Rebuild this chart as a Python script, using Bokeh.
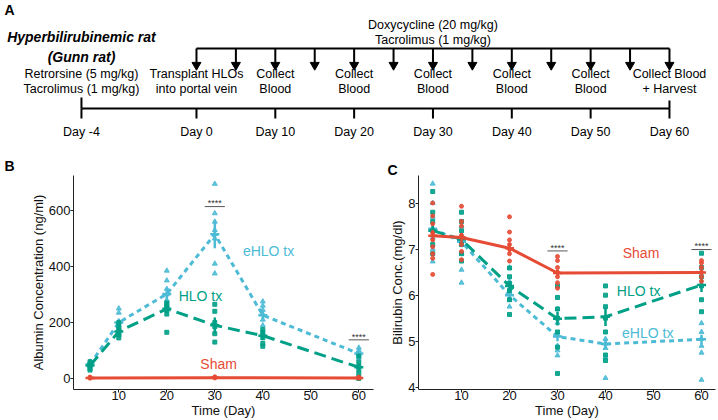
import math
from bokeh.plotting import figure
from bokeh.models import Range1d, FixedTicker, Title
from bokeh.layouts import column, row
from bokeh.core.properties import value
from bokeh.embed import file_html
from bokeh.resources import INLINE

FONT = "Liberation Sans"
RED = "#E64B35"
GREEN = "#00A087"
BLUE = "#4DBBD5"

# ---------------- Panel A data (schematic timeline) ----------------
timeline_days = [-4, 0, 10, 20, 30, 40, 50, 60]
timeline_labels = ["Day -4", "Day 0", "Day 10", "Day 20", "Day 30", "Day 40", "Day 50", "Day 60"]
dose_days = [0, 5, 10, 15, 20, 25, 30, 35, 40, 45, 50, 55, 60]
event_days = [0, 10, 20, 30, 40, 50, 60]
event_line1 = ["Transplant HLOs", "Collect", "Collect", "Collect", "Collect", "Collect", "Collect Blood"]
event_line2 = ["into portal vein", "Blood", "Blood", "Blood", "Blood", "Blood", "+ Harvest"]
model_lines = ["Hyperbilirubinemic rat", "(Gunn rat)"]
pre_lines = ["Retrorsine (5 mg/kg)", "Tacrolimus (1 mg/kg)"]
dose_lines = ["Doxycycline (20 mg/kg)", "Tacrolimus (1 mg/kg)"]

# ---------------- Panel B data (albumin, ng/ml) ----------------
b_xticks = [10, 20, 30, 40, 50, 60]
b_yticks = [0, 200, 400, 600]
b_sham_days = [4, 30, 60]
b_sham_mean = [2, 3, 2]
b_sham_sem = [1, 1, 1]
b_sham_pts = {4: [1, 3, 5], 30: [2, 4, 6], 60: [1, 3, 5]}
b_hlo_days = [4, 10, 20, 30, 40, 60]
b_hlo_mean = [46, 168, 249, 190, 153, 40]
b_hlo_sem = [8, 15, 18, 28, 14, 12]
b_hlo_pts = {4: [30, 38, 45, 52, 60], 10: [145, 155, 165, 175, 185, 200],
             20: [165, 230, 245, 255, 265, 270], 30: [265, 240, 200, 185, 160, 130],
             40: [175, 165, 155, 145, 125, 115], 60: [80, 60, 45, 30, 15, 0]}
b_ehlo_days = [4, 10, 20, 30, 40, 60]
b_ehlo_mean = [50, 200, 302, 515, 226, 89]
b_ehlo_sem = [7, 14, 20, 50, 14, 8]
b_ehlo_pts = {4: [35, 45, 55, 60], 10: [250, 235, 200, 190, 175, 160],
              20: [385, 350, 320, 300, 280, 260], 30: [695, 590, 560, 530, 515, 500, 410, 375],
              40: [275, 260, 245, 230, 210, 190], 60: [110, 100, 92, 85, 75]}

# ---------------- Panel C data (bilirubin, mg/dl) ----------------
c_xticks = [10, 20, 30, 40, 50, 60]
c_yticks = [4, 5, 6, 7, 8]
c_sham_days = [4, 10, 20, 30, 60]
c_sham_mean = [7.29, 7.25, 7.02, 6.48, 6.49]
c_sham_sem = [0.12, 0.10, 0.10, 0.07, 0.06]
c_sham_pts = {4: [8.0, 7.72, 7.55, 7.35, 7.2, 7.05, 6.9, 6.8, 6.45],
              10: [7.93, 7.6, 7.5, 7.3, 7.1, 6.95, 6.77],
              20: [7.7, 7.37, 7.2, 7.1, 7.0, 6.9, 6.74],
              30: [6.84, 6.75, 6.6, 6.5, 6.4, 6.27, 6.15],
              60: [6.75, 6.7, 6.6, 6.5, 6.4, 6.3]}
c_hlo_days = [4, 10, 20, 30, 40, 60]
c_hlo_mean = [7.40, 7.21, 6.20, 5.49, 5.53, 6.22]
c_hlo_sem = [0.12, 0.12, 0.10, 0.15, 0.20, 0.15]
c_hlo_pts = {4: [8.25, 7.8, 7.6, 7.4, 7.1, 6.9], 10: [7.8, 7.6, 7.4, 7.1, 6.9, 6.74],
             20: [6.59, 6.4, 6.25, 6.1, 5.9, 5.58], 30: [6.2, 5.95, 5.7, 5.5, 5.2, 4.87, 4.3],
             40: [6.2, 6.0, 5.75, 5.5, 5.2, 4.7, 4.58], 60: [6.91, 6.6, 6.4, 6.2, 5.9, 5.64]}
c_ehlo_days = [4, 10, 20, 30, 40, 60]
c_ehlo_mean = [7.44, 7.16, 6.00, 5.10, 4.94, 5.04]
c_ehlo_sem = [0.12, 0.12, 0.10, 0.10, 0.10, 0.10]
c_ehlo_pts = {4: [8.42, 8.0, 7.7, 7.45, 7.25, 7.0, 6.73], 10: [7.5, 7.3, 7.1, 6.9, 6.55, 6.27],
              20: [6.6, 6.3, 6.05, 5.9, 5.75], 30: [5.7, 5.4, 5.15, 4.9, 4.8, 4.69],
              40: [5.05, 4.95, 4.85, 4.65, 4.2], 60: [5.39, 5.2, 5.05, 4.9, 4.75, 4.16]}

# =================== Panel A ===================
BREAK_POS = -14.59  # Day -4 is drawn on a compressed (broken) scale


def tl_pos(d):
    return d if d >= 0 else BREAK_POS


pA = figure(width=718, height=150, x_range=Range1d(-24.86, 66.22), y_range=Range1d(150, 0),
            x_axis_type=None, y_axis_type=None, output_backend="svg", toolbar_location=None,
            min_border=0)
pA.outline_line_color = None
pA.background_fill_color = None

tpos = [tl_pos(d) for d in timeline_days]
n = len(tpos)
pA.segment(x0=[tpos[0]], y0=[108], x1=[tpos[-1]], y1=[108], line_width=2, color="black")
pA.segment(x0=tpos, y0=[108] * n, x1=tpos, y1=[118] * n, line_width=2, color="black")
pA.segment(x0=[tpos[0], tpos[-1]], y0=[97, 100], x1=[tpos[0], tpos[-1]], y1=[108, 108],
           line_width=2, color="black")
pA.text(x=tpos, y=[131] * n, text=timeline_labels, text_font=value(FONT), text_font_size="12.5px",
        text_align="center", text_baseline="middle", color="black")

m = len(dose_days)
pA.segment(x0=[dose_days[0]], y0=[48], x1=[dose_days[-1]], y1=[48], line_width=2, color="black")
pA.segment(x0=dose_days, y0=[48] * m, x1=dose_days, y1=[63] * m, line_width=2, color="black")
pA.scatter(x=dose_days, y=[64.5] * m, marker="inverted_triangle", size=9, color="black")
pA.text(x=[30, 30], y=[24, 39.5], text=dose_lines, text_font=value(FONT), text_font_size="12.5px",
        text_align="center", text_baseline="middle", color="black")

k = len(event_days)
pA.text(x=event_days, y=[73] * k, text=event_line1, text_font=value(FONT), text_font_size="12.5px",
        text_align="center", text_baseline="middle", color="black")
pA.text(x=event_days, y=[88] * k, text=event_line2, text_font=value(FONT), text_font_size="12.5px",
        text_align="center", text_baseline="middle", color="black")

pA.text(x=[BREAK_POS, BREAK_POS], y=[36, 56], text=model_lines, text_font=value(FONT),
        text_font_size="14px", text_font_style="bold italic", text_align="center",
        text_baseline="middle", color="black")
pA.text(x=[BREAK_POS, BREAK_POS], y=[73, 88], text=pre_lines, text_font=value(FONT),
        text_font_size="12.5px", text_align="center", text_baseline="middle", color="black")
pA.text(x=[-24.36], y=[9], text=["A"], text_font=value(FONT), text_font_size="14px",
        text_font_style="bold", text_align="left", text_baseline="middle", color="black")


# =================== helpers ===================
def style_axes(p, xticks, yticks, xtitle, ytitle, ytitle_standoff):
    p.xaxis.ticker = FixedTicker(ticks=xticks)
    p.yaxis.ticker = FixedTicker(ticks=yticks)
    for ax in (p.xaxis[0], p.yaxis[0]):
        ax.axis_line_color = "#222222"
        ax.axis_line_width = 1
        ax.major_tick_line_color = "#222222"
        ax.major_tick_out = 3
        ax.major_tick_in = 0
        ax.minor_tick_line_color = None
        ax.major_label_text_font = FONT
        ax.major_label_text_font_size = "13px"
        ax.major_label_text_color = "#111111"
        ax.axis_label_text_font = FONT
        ax.axis_label_text_font_size = "13px"
        ax.axis_label_text_font_style = "normal"
        ax.axis_label_text_color = "#111111"
    p.xaxis[0].axis_label = xtitle
    p.yaxis[0].axis_label = ytitle
    p.xaxis[0].major_label_standoff = -2
    p.xaxis[0].axis_label_standoff = 0
    p.yaxis[0].major_label_standoff = 0
    p.yaxis[0].axis_label_standoff = ytitle_standoff
    p.grid.visible = False
    p.outline_line_color = None


def flatten(pts):
    xs, ys = [], []
    for d, vals in pts.items():
        xs += [d] * len(vals)
        ys += vals
    return xs, ys


def draw_group(p, days, mean, sem, pts, color, dash, marker, size):
    xs, ys = flatten(pts)
    p.scatter(xs, ys, marker=marker, size=size, color=color, alpha=0.9)
    p.line(days, mean, line_width=3, color=color, line_dash=dash)
    lo = [a - b for a, b in zip(mean, sem)]
    hi = [a + b for a, b in zip(mean, sem)]
    p.segment(x0=days, y0=lo, x1=days, y1=hi, line_width=2.5, color=color)
    p.scatter(days, mean, marker="dash", size=9, line_width=2.5, color=color)


def add_letter(p, letter, offset, standoff):
    p.add_layout(Title(text=letter, align="left", offset=offset, standoff=standoff,
                       text_font=FONT, text_font_size="14px", text_font_style="bold",
                       text_color="black"), "above")


def stars(p, x, y, yline, half):
    p.text(x=[x], y=[y], text=["****"], text_font=value(FONT), text_font_size="9px",
           text_align="center", text_baseline="middle", color="#333333")
    p.segment(x0=[x - half], y0=[yline], x1=[x + half], y1=[yline], line_width=1, color="#555555")


# =================== Panel B ===================
BW, BH = 378, 270
BL, BR, BT, BB = 73, 5, 25, 31
pB = figure(width=BW, height=BH, x_range=Range1d(0.56, 63.06), y_range=Range1d(-39.3, 725),
            output_backend="svg", toolbar_location=None, min_border_left=BL, min_border_right=BR,
            min_border_top=BT, min_border_bottom=BB)
style_axes(pB, b_xticks, b_yticks, "Time (Day)", "Albumin Concentration (ng/ml)", 0)
draw_group(pB, b_ehlo_days, b_ehlo_mean, b_ehlo_sem, b_ehlo_pts, BLUE, "5 4", "triangle", 5)
draw_group(pB, b_hlo_days, b_hlo_mean, b_hlo_sem, b_hlo_pts, GREEN, "12 6", "square", 4)
draw_group(pB, b_sham_days, b_sham_mean, b_sham_sem, b_sham_pts, RED, "solid", "circle", 4)
pB.text(x=[41.2, 27.0, 30.8], y=[457, 296, 53], text=["eHLO tx", "HLO tx", "Sham"],
        text_color=[BLUE, GREEN, RED], text_font=value(FONT), text_font_size="14px",
        text_align="center", text_baseline="middle")
stars(pB, 30, 626, 614, 2.1)
stars(pB, 60, 149, 138, 2.1)
add_letter(pB, "B", -69, 4)

# =================== Panel C ===================
CW, CH = 340, 270
CL, CR, CT, CB = 40, 3, 20, 30
pC = figure(width=CW, height=CH, x_range=Range1d(1.04, 62.92), y_range=Range1d(3.951, 8.598),
            output_backend="svg", toolbar_location=None, min_border_left=CL, min_border_right=CR,
            min_border_top=CT, min_border_bottom=CB)
style_axes(pC, c_xticks, c_yticks, "Time (Day)", "Bilirubin Conc.(mg/dl)", 0)
draw_group(pC, c_ehlo_days, c_ehlo_mean, c_ehlo_sem, c_ehlo_pts, BLUE, "5 4", "triangle", 5)
draw_group(pC, c_hlo_days, c_hlo_mean, c_hlo_sem, c_hlo_pts, GREEN, "12 6", "square", 4)
draw_group(pC, c_sham_days, c_sham_mean, c_sham_sem, c_sham_pts, RED, "solid", "circle", 4)
pC.text(x=[47.4, 46.9, 48.8], y=[6.92, 6.10, 5.18], text=["Sham", "HLO tx", "eHLO tx"],
        text_color=[RED, GREEN, BLUE], text_font=value(FONT), text_font_size="14px",
        text_align="center", text_baseline="middle")
stars(pC, 30, 7.03, 6.96, 2.1)
stars(pC, 60, 7.06, 6.99, 2.1)
add_letter(pC, "C", -31, -4)

layout = column(pA, row(pB, pC))
open("out.html", "w").write(file_html(layout, INLINE))
